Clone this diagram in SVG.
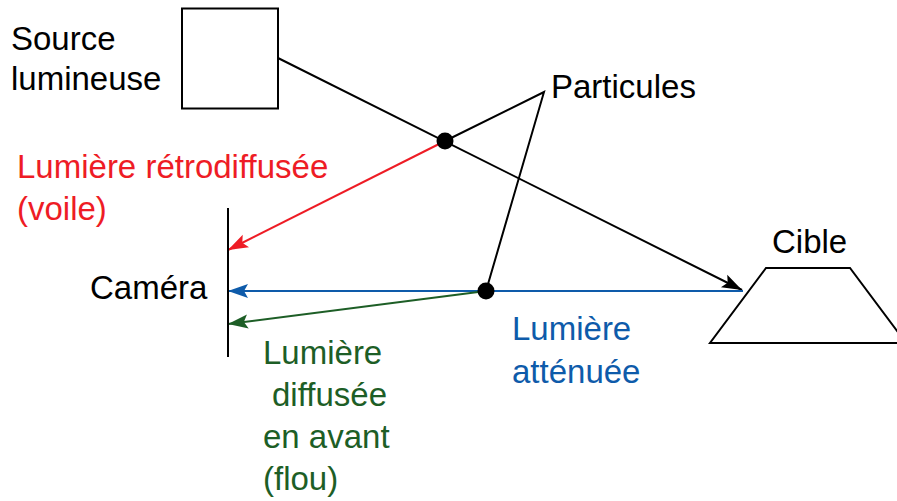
<svg xmlns="http://www.w3.org/2000/svg" width="897" height="501" viewBox="0 0 897 501">
<style>
text{font-family:"Liberation Sans",Arial,sans-serif;font-size:33px;}
.k{fill:#000;}
.r{fill:#EE1C25;}
.g{fill:#1D5E26;}
.b{fill:#0E5BAA;}
.shape{fill:#fff;stroke:#000;stroke-width:2;}
.ln{fill:none;stroke-width:2;}
</style>
<defs>
<marker id="ak" markerUnits="userSpaceOnUse" markerWidth="24" markerHeight="18" refX="20" refY="7" orient="auto" overflow="visible"><path d="M0,0 L20,7 L0,14 L4,7 z" fill="#000"/></marker>
<marker id="ar" markerUnits="userSpaceOnUse" markerWidth="24" markerHeight="18" refX="20" refY="7" orient="auto" overflow="visible"><path d="M0,0 L20,7 L0,14 L4,7 z" fill="#EE1C25"/></marker>
<marker id="ab" markerUnits="userSpaceOnUse" markerWidth="24" markerHeight="18" refX="20" refY="7" orient="auto" overflow="visible"><path d="M0,0 L20,7 L0,14 L4,7 z" fill="#0E5BAA"/></marker>
<marker id="ag" markerUnits="userSpaceOnUse" markerWidth="24" markerHeight="18" refX="20" refY="7" orient="auto" overflow="visible"><path d="M0,0 L20,7 L0,14 L4,7 z" fill="#1D5E26"/></marker>
</defs>
<rect width="897" height="501" fill="#fff"/>
<g id="connectors">
<line class="ln" x1="278" y1="58" x2="742" y2="290" stroke="#000" marker-end="url(#ak)"/>
<line class="ln" x1="445" y1="141" x2="228" y2="250" stroke="#EE1C25" marker-end="url(#ar)"/>
<line class="ln" x1="743" y1="291" x2="228" y2="291" stroke="#0E5BAA" marker-end="url(#ab)"/>
<line class="ln" x1="486" y1="291" x2="228" y2="324" stroke="#1D5E26" marker-end="url(#ag)"/>
<polyline class="ln" points="445,141 544,92 486,291" stroke="#000"/>
</g>
<g id="source">
<rect class="shape" x="182" y="8.5" width="96" height="100"/>
<text class="k" x="11" y="50">Source</text>
<text class="k" x="11" y="90">lumineuse</text>
</g>
<g id="camera">
<line x1="228" y1="208" x2="228" y2="357" stroke="#000" stroke-width="2"/>
<text class="k" x="90" y="299">Caméra</text>
</g>
<g id="cible">
<polygon class="shape" points="766,268 850,268 906,343 710,343"/>
<text class="k" x="772" y="253">Cible</text>
</g>
<g id="particules">
<circle cx="445" cy="141" r="8.5" fill="#000"/>
<circle cx="486" cy="291" r="8.5" fill="#000"/>
<text class="k" x="551" y="98">Particules</text>
</g>
<g id="retro">
<text class="r" x="17" y="178">Lumière rétrodiffusée</text>
<text class="r" x="17" y="220">(voile)</text>
</g>
<g id="attenuee">
<text class="b" x="512" y="340">Lumière</text>
<text class="b" x="512" y="383">atténuée</text>
</g>
<g id="diffusee">
<text class="g" x="263" y="364">Lumière</text>
<text class="g" x="272" y="406">diffusée</text>
<text class="g" x="263" y="448">en avant</text>
<text class="g" x="263" y="490">(flou)</text>
</g>
</svg>
